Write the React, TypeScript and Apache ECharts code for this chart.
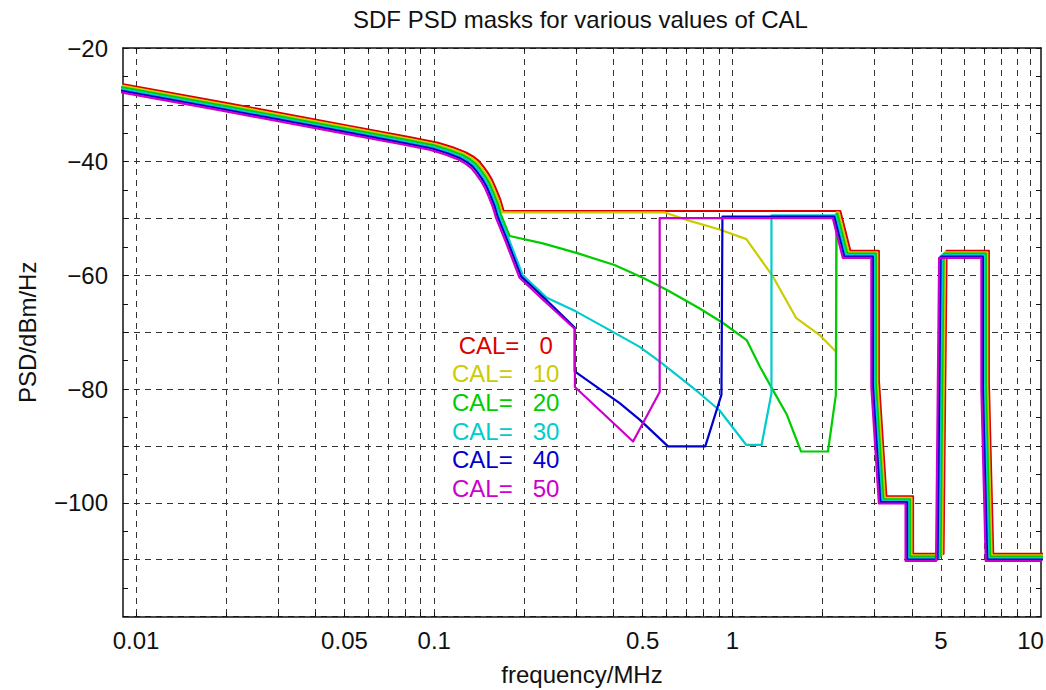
import React, { useEffect, useRef } from 'react';
import * as echarts from 'echarts';

// ---------- axes ----------
const X_RANGE_MHZ = [0.00904, 10.84];
const Y_RANGE_DB = [-120, -20];
const Y_STEP_DB = 10;
const X_TICKS_MHZ = [
  0.01, 0.02, 0.03, 0.04, 0.05, 0.06, 0.07, 0.08, 0.09,
  0.1, 0.2, 0.3, 0.4, 0.5, 0.6, 0.7, 0.8, 0.9,
  1, 2, 3, 4, 5, 6, 7, 8, 9, 10,
];
const X_LABELS_MHZ = [0.01, 0.05, 0.1, 0.5, 1, 5, 10];
const Y_LABELS_DB = [-100, -80, -60, -40, -20];

// ---------- series ----------
const CAL_VALUES = [0, 10, 20, 30, 40, 50];
const CAL_COLORS = ['#dd0000', '#cccc00', '#00cc00', '#00cccc', '#0000cc', '#cc00cc'];

// part shared by all masks (frequency in MHz, PSD in dBm/Hz)
const COMMON_FREQ = [0.0088, 0.02, 0.05, 0.08, 0.1, 0.112, 0.124, 0.131, 0.137, 0.142, 0.147, 0.152, 0.157, 0.162, 0.166];
const COMMON_PSD = [-27.0, -30.4, -34.3, -36.3, -37.3, -38.1, -39.0, -39.7, -40.5, -41.5, -42.6, -43.9, -45.6, -47.4, -49.3];

// CAL-dependent middle part
const CAL0_FREQ: number[] = [];
const CAL0_PSD: number[] = [];
const CAL10_FREQ = [0.583, 0.689, 0.89, 1.095, 1.345, 1.61, 1.93, 2.19, 2.2];
const CAL10_PSD = [-49.3, -50.6, -52.3, -54.0, -60.6, -67.9, -70.9, -73.8, -49.3];
const CAL20_FREQ = [0.178, 0.23, 0.3, 0.4, 0.5, 0.6, 0.77, 0.925, 1.11, 1.23, 1.36, 1.51, 1.69, 2.08, 2.21, 2.22];
const CAL20_PSD = [-53.2, -54.5, -56.2, -58.3, -60.6, -62.7, -65.9, -68.5, -71.5, -76.2, -80.3, -84.5, -91.1, -91.1, -81.2, -49.3];
const CAL30_FREQ = [0.178, 0.199, 0.24, 0.3, 0.39, 0.49, 0.573, 0.7, 0.78, 0.91, 1.12, 1.26, 1.36, 1.36];
const CAL30_PSD = [-53.2, -59.8, -63.8, -66.2, -69.5, -72.4, -75.0, -78.6, -80.6, -83.6, -89.7, -89.7, -80.6, -49.3];
const CAL40_FREQ = [0.178, 0.199, 0.24, 0.301, 0.301, 0.426, 0.497, 0.619, 0.825, 0.935, 0.942];
const CAL40_PSD = [-53.2, -59.8, -63.8, -68.8, -76.5, -82.1, -85.0, -89.7, -89.7, -80.6, -49.3];
const CAL50_FREQ = [0.178, 0.199, 0.24, 0.305, 0.305, 0.478, 0.587, 0.587];
const CAL50_PSD = [-53.2, -59.8, -63.8, -68.8, -79.0, -88.6, -79.9, -49.3];

// high-frequency part shared by all masks
const TAIL_FREQ = [2.235, 2.415, 3.01, 3.01, 3.19, 3.92, 3.92, 4.96, 5.08, 7.04, 7.04, 7.28, 11.2];
const TAIL_PSD = [-49.3, -56.3, -56.3, -79.0, -99.5, -99.5, -109.6, -109.6, -56.3, -56.3, -79.5, -109.6, -109.6];

const MIDDLE_FREQ = [CAL0_FREQ, CAL10_FREQ, CAL20_FREQ, CAL30_FREQ, CAL40_FREQ, CAL50_FREQ];
const MIDDLE_PSD = [CAL0_PSD, CAL10_PSD, CAL20_PSD, CAL30_PSD, CAL40_PSD, CAL50_PSD];

// small visual offset between overlapping curves (per series step)
const OFFSET_DECADE = 0.005;
const OFFSET_DB = 0.25;

const FONT = '"Liberation Sans", Arial, sans-serif';
const NB = '\u00A0';

const fmtMHz = (v: number) => String(Number(Math.pow(10, v).toPrecision(2)));
const fmtDb = (v: number) => (v < 0 ? '\u2212' + Math.abs(v) : String(v));
const legendText = (name: string) => {
  const v = name.split('=')[1];
  return (v.length === 1 ? NB : '') + 'CAL=' + NB + NB + NB + v;
};

function buildSeries() {
  return CAL_VALUES.map((cal, k) => {
    const freq = [...COMMON_FREQ, ...MIDDLE_FREQ[k], ...TAIL_FREQ];
    const psd = [...COMMON_PSD, ...MIDDLE_PSD[k], ...TAIL_PSD];
    const dx = (2.5 - k) * OFFSET_DECADE;
    const dy = (2.5 - k) * OFFSET_DB;
    return {
      name: 'CAL=' + cal,
      type: 'line',
      data: freq.map((f, i) => [Math.log10(f) + dx, psd[i] + dy]),
      showSymbol: false,
      symbol: 'none',
      clip: true,
      lineStyle: { color: CAL_COLORS[k], width: 2.2, join: 'round' },
      itemStyle: { color: CAL_COLORS[k] },
      emphasis: { disabled: true },
      xAxisIndex: 0,
      yAxisIndex: 0,
    };
  });
}

export default function App() {
  const ref = useRef<HTMLDivElement>(null);
  useEffect(() => {
    if (!ref.current) return;
    const chart = echarts.init(ref.current, null, { renderer: 'svg' });
    const xMin = Math.log10(X_RANGE_MHZ[0]);
    const xMax = Math.log10(X_RANGE_MHZ[1]);
    const xTicks = X_TICKS_MHZ.map((v) => Math.log10(v));
    const xLabels = X_LABELS_MHZ.map((v) => Math.log10(v));
    const axisLine = { show: true, onZero: false, lineStyle: { color: '#111', width: 1.5 } };
    const gridLine = { show: true, lineStyle: { color: '#333', width: 1, type: [6, 5] } };
    const baseX = {
      type: 'value',
      min: xMin,
      max: xMax,
      axisLine,
      axisTick: { show: true, inside: true, length: 4, customValues: xTicks, lineStyle: { color: '#111' } },
    };
    const baseY = {
      type: 'value',
      min: Y_RANGE_DB[0],
      max: Y_RANGE_DB[1],
      interval: Y_STEP_DB,
      axisLine,
      axisTick: { show: true, inside: true, length: 5, lineStyle: { color: '#111' } },
      minorTick: { show: true, splitNumber: 2, length: 5, lineStyle: { color: '#111' } },
    };
    chart.setOption({
      animation: false,
      backgroundColor: '#ffffff',
      textStyle: { fontFamily: FONT },
      title: {
        text: 'SDF PSD masks for various values of CAL',
        left: 353,
        top: 7,
        padding: 0,
        textStyle: { fontFamily: FONT, fontSize: 24, fontWeight: 'normal', color: '#111', lineHeight: 24 },
      },
      legend: {
        orient: 'vertical',
        left: 445,
        top: 331,
        padding: 0,
        itemGap: 0,
        itemWidth: 1,
        itemHeight: 1,
        selectedMode: false,
        itemStyle: { opacity: 0 },
        lineStyle: { opacity: 0 },
        formatter: legendText,
        textStyle: { fontFamily: FONT, fontSize: 24, lineHeight: 28.6 },
        data: CAL_VALUES.map((cal, k) => ({ name: 'CAL=' + cal, textStyle: { color: CAL_COLORS[k] } })),
      },
      grid: { left: 123, right: 5, top: 48, bottom: 73.5, containLabel: false, outerBoundsMode: 'none' },
      xAxis: [
        {
          ...baseX,
          position: 'bottom',
          name: 'frequency/MHz',
          nameLocation: 'middle',
          nameGap: 46,
          nameMoveOverlap: false,
          nameTextStyle: { fontFamily: FONT, fontSize: 24, color: '#111', lineHeight: 24 },
          axisLabel: {
            show: true,
            customValues: xLabels,
            formatter: fmtMHz,
            margin: 12,
            fontFamily: FONT,
            fontSize: 24,
            color: '#111',
          },
          splitLine: gridLine,
        },
        {
          ...baseX,
          position: 'top',
          axisLabel: { show: false },
          splitLine: { show: false },
        },
      ],
      yAxis: [
        {
          ...baseY,
          position: 'left',
          name: 'PSD/dBm/Hz',
          nameLocation: 'middle',
          nameGap: 84,
          nameMoveOverlap: false,
          nameTextStyle: { fontFamily: FONT, fontSize: 24, color: '#111', lineHeight: 24 },
          axisLabel: {
            show: true,
            customValues: Y_LABELS_DB,
            formatter: fmtDb,
            margin: 15,
            fontFamily: FONT,
            fontSize: 24,
            color: '#111',
          },
          splitLine: gridLine,
        },
        {
          ...baseY,
          position: 'right',
          axisLabel: { show: false },
          splitLine: { show: false },
        },
      ],
      series: buildSeries(),
    });
    return () => chart.dispose();
  }, []);
  return (
    <div
      ref={ref}
      style={{ position: 'fixed', left: 0, top: 0, width: 1046, height: 690 }}
    />
  );
}
